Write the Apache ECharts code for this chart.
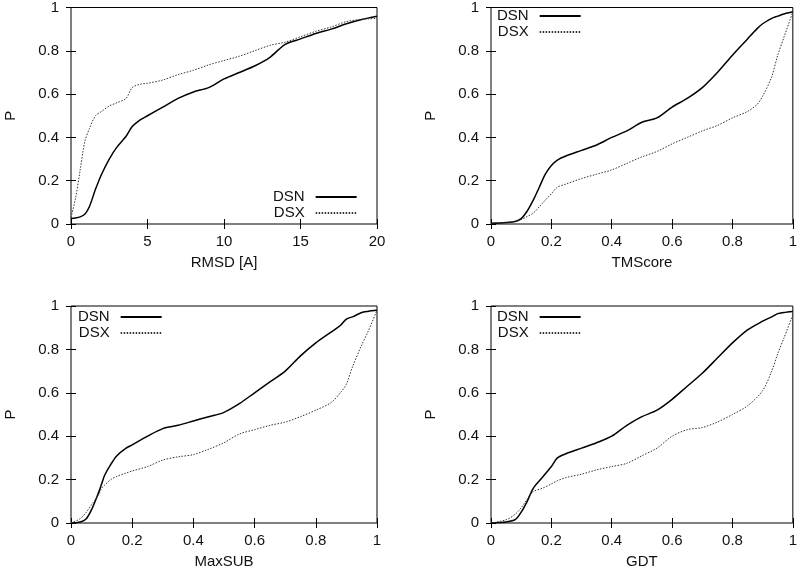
<!DOCTYPE html>
<html>
<head>
<meta charset="utf-8">
<script src="https://cdn.jsdelivr.net/npm/echarts@6/dist/echarts.min.js"></script>
<style>html,body{margin:0;padding:0;background:#fff;}#c{width:800px;height:570px;}</style>
</head>
<body>
<div id="c"></div>
<script>
// RMSD panel
const rmsdX   = [0,0.3,0.6,0.9,1.2,1.6,2,2.5,3,3.6,4,4.5,5,6,7,8,9,10,11,12,13,14,15,16,17,18,19,20];
const rmsdDSN = [0.025,0.028,0.033,0.045,0.08,0.16,0.23,0.30,0.355,0.405,0.45,0.48,0.50,0.54,0.58,0.61,0.63,0.67,0.70,0.73,0.77,0.83,0.855,0.88,0.90,0.925,0.945,0.96];
const rmsdDSX = [0.03,0.12,0.25,0.38,0.44,0.50,0.52,0.545,0.56,0.58,0.63,0.645,0.65,0.665,0.69,0.71,0.735,0.755,0.775,0.80,0.825,0.84,0.865,0.89,0.91,0.935,0.945,0.95];
// TMScore panel
const tmX   = [0,0.05,0.08,0.1,0.12,0.14,0.16,0.18,0.2,0.22,0.25,0.3,0.35,0.4,0.45,0.5,0.55,0.6,0.65,0.7,0.75,0.8,0.85,0.88,0.9,0.93,0.95,0.97,1];
const tmDSN = [0.003,0.007,0.012,0.025,0.06,0.11,0.17,0.23,0.27,0.295,0.315,0.34,0.365,0.40,0.43,0.47,0.49,0.54,0.58,0.63,0.70,0.78,0.855,0.90,0.925,0.95,0.96,0.97,0.98];
const tmDSX = [0.003,0.007,0.012,0.02,0.035,0.05,0.08,0.11,0.14,0.17,0.185,0.21,0.23,0.25,0.28,0.31,0.335,0.37,0.40,0.43,0.455,0.49,0.52,0.55,0.59,0.68,0.78,0.86,0.98];
// MaxSUB panel
const msX   = [0,0.03,0.05,0.07,0.09,0.1,0.11,0.13,0.15,0.18,0.2,0.25,0.3,0.35,0.4,0.45,0.5,0.55,0.6,0.65,0.7,0.75,0.8,0.85,0.88,0.9,0.92,0.95,0.97,1];
const msDSN = [0,0.005,0.02,0.07,0.14,0.18,0.22,0.27,0.31,0.345,0.36,0.40,0.435,0.45,0.47,0.49,0.51,0.55,0.60,0.65,0.70,0.77,0.83,0.88,0.91,0.94,0.95,0.97,0.975,0.98];
const msDSX = [0,0.02,0.05,0.09,0.13,0.16,0.175,0.20,0.215,0.23,0.24,0.26,0.29,0.305,0.315,0.34,0.37,0.41,0.43,0.45,0.465,0.49,0.52,0.555,0.60,0.64,0.72,0.82,0.88,0.98];
// GDT panel
const gdtX   = [0,0.05,0.08,0.1,0.12,0.14,0.17,0.2,0.22,0.25,0.3,0.35,0.4,0.45,0.5,0.55,0.6,0.65,0.7,0.75,0.8,0.85,0.9,0.93,0.95,0.97,1];
const gdtDSN = [0,0.005,0.015,0.05,0.10,0.16,0.21,0.26,0.30,0.32,0.345,0.37,0.40,0.45,0.49,0.52,0.57,0.63,0.69,0.76,0.83,0.89,0.93,0.95,0.965,0.97,0.975];
const gdtDSX = [0,0.015,0.04,0.07,0.11,0.145,0.16,0.18,0.195,0.21,0.225,0.245,0.26,0.275,0.31,0.345,0.40,0.43,0.44,0.465,0.50,0.54,0.61,0.70,0.78,0.85,0.96];

const xNames = ['RMSD [A]','TMScore','MaxSUB','GDT'];
const xMax = [20,1,1,1];
const xInterval = [5,0.2,0.2,0.2];

const panels = [
  {x: rmsdX, a: rmsdDSN, b: rmsdDSX},
  {x: tmX, a: tmDSN, b: tmDSX},
  {x: msX, a: msDSN, b: msDSX},
  {x: gdtX, a: gdtDSN, b: gdtDSX}
];

const FONT = 'Liberation Sans';
const TXT = '#111';
const gridPos = [
  {left: 71, top: 7, width: 306, height: 217},
  {left: 491, top: 7, width: 306, height: 217},
  {left: 71, top: 306, width: 306, height: 218},
  {left: 491, top: 306, width: 306, height: 218}
];
const legendPos = [
  {left: 273, top: 189},
  {left: 497, top: 8},
  {left: 78, top: 309},
  {left: 497, top: 309}
];

const grids = [], xAxes = [], yAxes = [], series = [], legends = [];
const tickStyle = {show: true, inside: true, length: 5, lineStyle: {color: '#000', width: 1}};
gridPos.forEach((g, i) => {
  grids.push(Object.assign({show: true, borderColor: '#000', borderWidth: 1, backgroundColor: 'transparent'}, g));
  const xbase = {gridIndex: i, type: 'value', min: 0, max: xMax[i], interval: xInterval[i], splitLine: {show: false},
    axisLine: {show: false}, axisTick: tickStyle};
  xAxes.push(Object.assign({}, xbase, {position: 'bottom', name: xNames[i], nameLocation: 'middle', nameGap: 31,
    nameTextStyle: {fontFamily: FONT, fontSize: 15, color: TXT},
    axisLabel: {fontFamily: FONT, fontSize: 15, color: TXT, margin: 10}}));
  xAxes.push(Object.assign({}, xbase, {position: 'top', axisLabel: {show: false}}));
  const ybase = {gridIndex: i, type: 'value', min: 0, max: 1, interval: 0.2, splitLine: {show: false},
    axisLine: {show: false}, axisTick: tickStyle};
  yAxes.push(Object.assign({}, ybase, {position: 'left', name: 'P', nameLocation: 'middle', nameGap: 53,
    nameTextStyle: {fontFamily: FONT, fontSize: 15, color: TXT},
    axisLabel: {fontFamily: FONT, fontSize: 15, color: TXT, margin: 12}}));
  yAxes.push(Object.assign({}, ybase, {position: 'right', axisLabel: {show: false}}));
  const p = panels[i];
  series.push({name: 'DSN', type: 'line', xAxisIndex: 2*i, yAxisIndex: 2*i, showSymbol: false, symbol: 'none',
    smooth: 0.3, lineStyle: {color: '#000', width: 1.5, type: 'solid'}, itemStyle: {color: '#000'},
    data: p.x.map((v, k) => [v, p.a[k]]), animation: false});
  series.push({name: 'DSX', type: 'line', xAxisIndex: 2*i, yAxisIndex: 2*i, showSymbol: false, symbol: 'none',
    smooth: 0.3, lineStyle: {color: '#333', width: 1, type: [1.5, 1.5]}, itemStyle: {color: '#333'},
    data: p.x.map((v, k) => [v, p.b[k]]), animation: false});
  legends.push(Object.assign({orient: 'vertical', align: 'right', itemWidth: 41, itemHeight: 10, itemGap: 0,
    padding: 0, selectedMode: false, data: ['DSN','DSX'],
    itemStyle: {opacity: 0},
    textStyle: {fontFamily: FONT, fontSize: 15, color: TXT, padding: [0, 6, 0, 0], lineHeight: 16}}, legendPos[i]));
});

const chart = echarts.init(document.getElementById('c'), null, {renderer: 'canvas'});
chart.setOption({
  backgroundColor: '#fff',
  animation: false,
  grid: grids,
  xAxis: xAxes,
  yAxis: yAxes,
  legend: legends,
  series: series
});
</script>
</body>
</html>
